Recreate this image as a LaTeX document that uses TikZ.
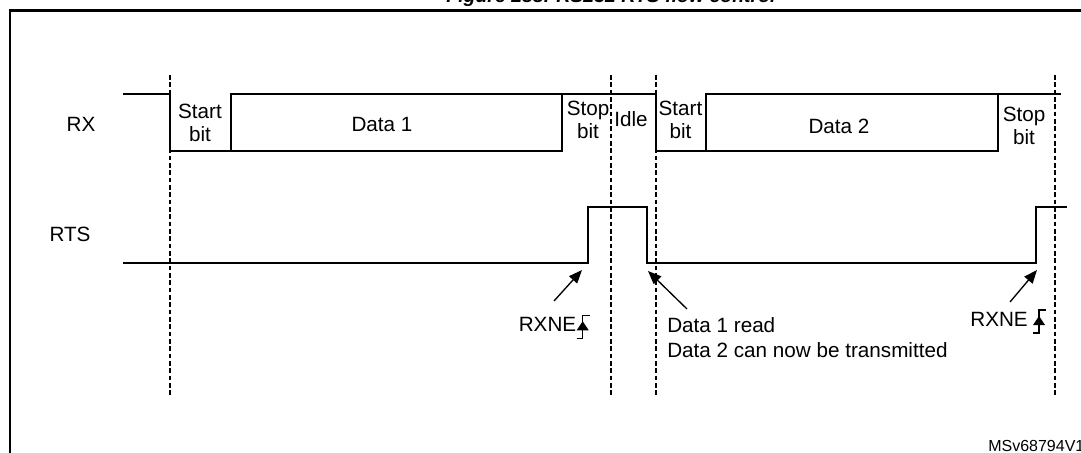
\documentclass[tikz,border=0pt]{standalone}
\usepackage{fontspec}
\setmainfont{Liberation Sans}
\usetikzlibrary{arrows.meta}

\newcommand{\riseflag}[1]{%
  \draw[line width=0.9pt] (#1) ++(-6,0) -- ++(6,0) -- ++(0,-23) -- ++(7,0);
  \fill (#1) ++(-6,-8) -- ++(12,0) -- ++(-6,-9) -- cycle;}

\begin{document}
\begin{tikzpicture}[x=0.75pt,y=-0.75pt,
    wave/.style={line width=1.3pt},
    guide/.style={line width=0.8pt, dash pattern=on 3.5pt off 2pt},
    txt/.style={inner sep=0pt, font=\fontsize{15.5}{17.25}\selectfont},
    flag/.style={-{Triangle[length=10pt,width=8pt]}, line width=1pt}]
  \useasboundingbox (0,0) rectangle (1081,453);
  \clip (0,0) rectangle (1081,453);
  % frame and title
  \draw[line width=1.8pt] (10,470) -- (10,10.5) -- (1100,10.5);
  \node[txt, font=\fontsize{14.6}{17}\selectfont\bfseries\itshape, anchor=base] (title) at (611,2.5) {Figure 288. RS232 RTS flow control};
  % signal names
  \node[txt] (rx) at (81,124.5) {RX};
  \node[txt] (rts) at (70,234.5) {RTS};
  % time markers
  \foreach \x in {170,611,656,1055}
    \draw[guide] (\x,75) -- (\x,395);
  % RX
  \draw[wave] (123,94) -- (170,94) -- (170,151) -- (562,151) -- (562,94) -- (656,94) -- (656,151) -- (998,151) -- (998,94) -- (1061,94);
  \draw[wave] (231,151) -- (231,94) -- (562,94);
  \draw[wave] (706,151) -- (706,94) -- (998,94);
  \node[txt, align=center] (start1) at (200,123) {Start\\bit};
  \node[txt] (data1) at (382,124) {Data 1};
  \node[txt, align=center] (stop1) at (588,120) {Stop\\bit};
  \node[txt] (idle) at (631,119) {Idle};
  \node[txt, align=center] (start2) at (680.5,120) {Start\\bit};
  \node[txt] (data2) at (839,126) {Data 2};
  \node[txt, align=center] (stop2) at (1024,126) {Stop\\bit};
  % RTS
  \draw[wave] (123,263) -- (588,263) -- (588,207) -- (647,207) -- (647,263) -- (1036,263) -- (1036,207) -- (1067,207);
  % events
  \node[txt, anchor=base east] (rxneA) at (576.5,331.7) {RXNE};
  \riseflag{582.7,338.3}
  \node[txt, anchor=north west, align=left, font=\fontsize{15.5}{18.75}\selectfont] (rd) at (667,317.5) {Data 1 read\\Data 2 can now be transmitted};
  \node[txt, anchor=base east] (rxneB) at (1028,326) {RXNE};
  \riseflag{1039,333}
  \coordinate (tA) at (554,301);
  \coordinate (hA) at (582,270);
  \coordinate (tR) at (687,309);
  \coordinate (hR) at (648,271);
  \coordinate (tB) at (1010,302);
  \coordinate (hB) at (1037,270);
  \draw[flag] (tA) -- (hA);
  \draw[flag] (tR) -- (hR);
  \draw[flag] (tB) -- (hB);
  \node[txt, font=\fontsize{12}{14}\selectfont, anchor=base west] (ref) at (988,451) {MSv68794V1};
\end{tikzpicture}
\end{document}
